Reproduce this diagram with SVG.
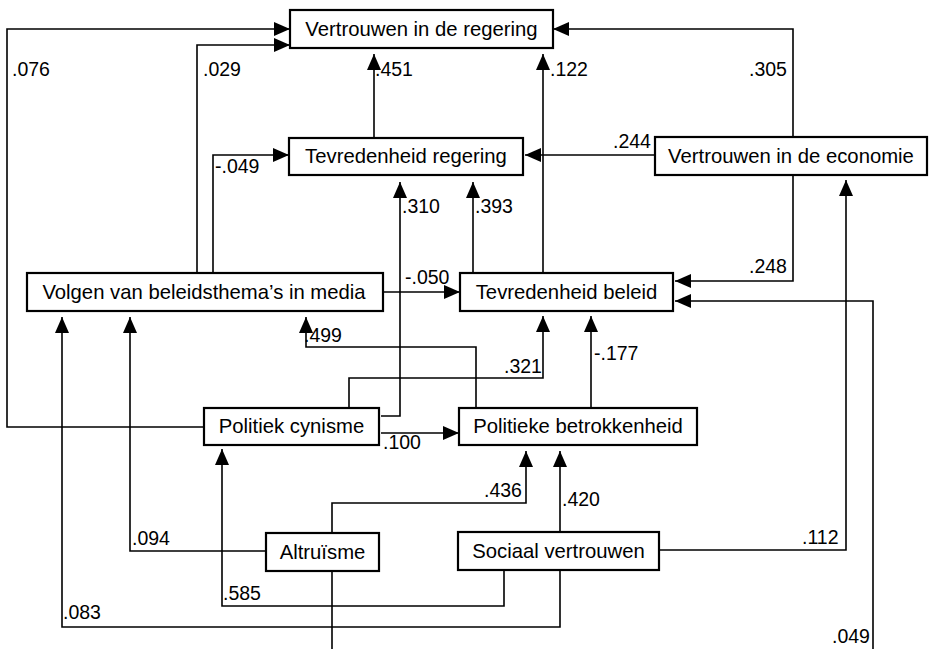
<svg xmlns="http://www.w3.org/2000/svg" width="929" height="649" viewBox="0 0 929 649">
  <style>
    .box { fill: #fff; stroke: #000; stroke-width: 2.2; }
    .lbl { font-family: "Liberation Sans", Arial, sans-serif; font-size: 19.5px; fill: #000; }
    .name { font-family: "Liberation Sans", Arial, sans-serif; font-size: 20.3px; fill: #000; text-anchor: middle; }
    .edge { fill: none; stroke: #000; stroke-width: 1.6; marker-end: url(#arrow); }
  </style>
  <defs>
    <marker id="arrow" markerUnits="userSpaceOnUse" markerWidth="16" markerHeight="14" refX="16" refY="7" orient="auto">
      <path d="M0,0 L16,7 L0,14 z" fill="#000"/>
    </marker>
  </defs>
  <rect width="929" height="649" fill="#fff"/>

  <g id="connectors">
    <!-- into Vertrouwen in de regering -->
    <path class="edge" d="M204,427 H7 V29 H290"/>
    <path class="edge" d="M197,273 V45 H290"/>
    <path class="edge" d="M374,138 V54"/>
    <path class="edge" d="M543,273 V54"/>
    <path class="edge" d="M793,137 V29 H553"/>
    <!-- into Tevredenheid regering -->
    <path class="edge" d="M213,273 V155 H289"/>
    <path class="edge" d="M655,155 H525"/>
    <path class="edge" d="M381,416 H400 V182"/>
    <path class="edge" d="M473,273 V182"/>
    <!-- into Tevredenheid beleid -->
    <path class="edge" d="M383,292 H460"/>
    <path class="edge" d="M793,175 V281 H675"/>
    <path class="edge" d="M332,571 V652 H873 V301 H675"/>
    <path class="edge" d="M349,408 V378 H543 V316"/>
    <path class="edge" d="M591,408 V316"/>
    <!-- into Volgen van beleidsthema's in media -->
    <path class="edge" d="M476,408 V347 H306 V317"/>
    <path class="edge" d="M266,551 H130 V317"/>
    <path class="edge" d="M560,570 V627 H62 V317"/>
    <!-- into Vertrouwen in de economie -->
    <path class="edge" d="M660,550 H846 V180"/>
    <!-- into Politiek cynisme / Politieke betrokkenheid -->
    <path class="edge" d="M504,570 V606 H222 V449"/>
    <path class="edge" d="M381,433 H459"/>
    <path class="edge" d="M332,533 V503 H526 V451"/>
    <path class="edge" d="M560,532 V451"/>
  </g>

  <g id="labels">
    <text class="lbl" x="12" y="76">.076</text>
    <text class="lbl" x="203" y="76">.029</text>
    <text class="lbl" x="215" y="173">-.049</text>
    <text class="lbl" x="375" y="76">.451</text>
    <text class="lbl" x="550" y="76">.122</text>
    <text class="lbl" x="749" y="76">.305</text>
    <text class="lbl" x="613" y="148">.244</text>
    <text class="lbl" x="749" y="273">.248</text>
    <text class="lbl" x="405" y="284">-.050</text>
    <text class="lbl" x="402" y="213">.310</text>
    <text class="lbl" x="475" y="213">.393</text>
    <text class="lbl" x="304" y="342">.499</text>
    <text class="lbl" x="504" y="373">.321</text>
    <text class="lbl" x="594" y="360">-.177</text>
    <text class="lbl" x="383" y="449">.100</text>
    <text class="lbl" x="484" y="497">.436</text>
    <text class="lbl" x="562" y="506">.420</text>
    <text class="lbl" x="802" y="544">.112</text>
    <text class="lbl" x="832" y="643">.049</text>
    <text class="lbl" x="132" y="545">.094</text>
    <text class="lbl" x="223" y="600">.585</text>
    <text class="lbl" x="63" y="619">.083</text>
  </g>

  <g id="vertrouwen-regering">
    <rect class="box" x="290" y="10" width="263" height="38"/>
    <text class="name" x="421.5" y="36">Vertrouwen in de regering</text>
  </g>
  <g id="tevredenheid-regering">
    <rect class="box" x="289" y="138" width="234" height="37"/>
    <text class="name" x="406" y="163">Tevredenheid regering</text>
  </g>
  <g id="vertrouwen-economie">
    <rect class="box" x="655" y="137" width="272" height="38"/>
    <text class="name" x="791" y="163">Vertrouwen in de economie</text>
  </g>
  <g id="volgen-media">
    <rect class="box" x="27" y="273" width="356" height="38"/>
    <text class="name" x="204" y="299">Volgen van beleidsthema’s in media</text>
  </g>
  <g id="tevredenheid-beleid">
    <rect class="box" x="460" y="273" width="213" height="38"/>
    <text class="name" x="566.5" y="299">Tevredenheid beleid</text>
  </g>
  <g id="politiek-cynisme">
    <rect class="box" x="204" y="408" width="175" height="37"/>
    <text class="name" x="291.5" y="433">Politiek cynisme</text>
  </g>
  <g id="politieke-betrokkenheid">
    <rect class="box" x="459" y="408" width="238" height="37"/>
    <text class="name" x="578" y="433">Politieke betrokkenheid</text>
  </g>
  <g id="altruisme">
    <rect class="box" x="266" y="533" width="113" height="38"/>
    <text class="name" x="322.5" y="559">Altruïsme</text>
  </g>
  <g id="sociaal-vertrouwen">
    <rect class="box" x="458" y="532" width="201" height="38"/>
    <text class="name" x="558.5" y="558">Sociaal vertrouwen</text>
  </g>
</svg>
